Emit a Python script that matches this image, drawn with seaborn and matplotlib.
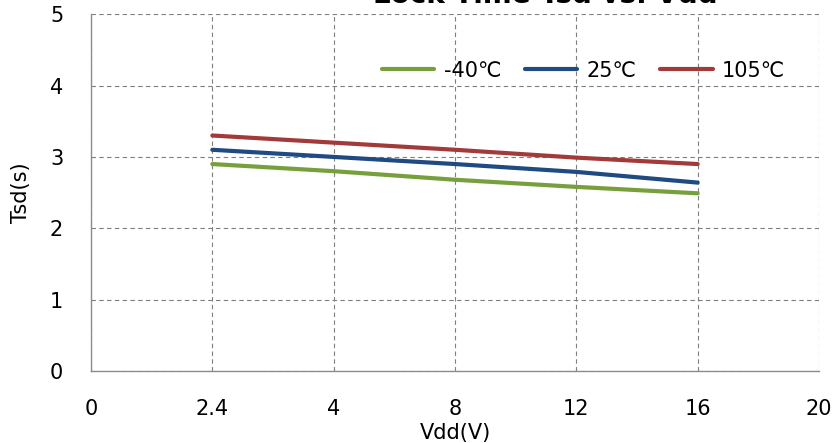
import matplotlib
matplotlib.use("Agg")
import matplotlib.pyplot as plt
import seaborn as sns
import pandas as pd

# category-style x axis, evenly spaced ticks
x_ticks = ["0", "2.4", "4", "8", "12", "16", "20"]
vdd = ["2.4", "4", "8", "12", "16"]
tsd_m40 = [2.9, 2.8, 2.68, 2.58, 2.49]
tsd_25 = [3.1, 3.0, 2.9, 2.79, 2.64]
tsd_105 = [3.3, 3.2, 3.1, 2.99, 2.9]
series = ["-40\u2103", "25\u2103", "105\u2103"]
colors = ["#77A03C", "#1F4A82", "#A33A3A"]

rows = []
for name, vals in zip(series, [tsd_m40, tsd_25, tsd_105]):
    for v, t in zip(vdd, vals):
        rows.append({"pos": x_ticks.index(v), "Tsd": t, "temp": name})
df = pd.DataFrame(rows)

sns.set_theme(style="white")
plt.rcParams["font.family"] = ["DejaVu Sans"]
plt.rcParams["text.color"] = "black"
plt.rcParams["axes.labelcolor"] = "black"
plt.rcParams["xtick.color"] = "black"
plt.rcParams["ytick.color"] = "black"

fig = plt.figure(figsize=(8.37, 4.43), dpi=100)
ax = fig.add_axes([0.1087, 0.1625, 0.8698, 0.8055])

sns.lineplot(data=df, x="pos", y="Tsd", hue="temp", hue_order=series,
             palette=colors, linewidth=3, ax=ax)

ax.set_xlim(0, len(x_ticks) - 1)
ax.set_ylim(0, 5)
ax.set_xticks(range(len(x_ticks)))
ax.set_xticklabels(x_ticks)
ax.set_yticks(range(6))
ax.tick_params(labelsize=15, length=0)
ax.tick_params(axis="x", pad=20)
ax.tick_params(axis="y", pad=20)
ax.grid(True, linestyle=(0, (4, 3)), color="#7f7f7f", linewidth=0.8)
for s in ["top", "right"]:
    ax.spines[s].set_visible(False)
for s in ["left", "bottom"]:
    ax.spines[s].set_color("#8c8c8c")
    ax.spines[s].set_linewidth(1.0)

ax.set_xlabel("Vdd(V)", fontsize=15, labelpad=3)
ax.set_ylabel("Tsd(s)", fontsize=15, labelpad=14)

ax.legend(loc="upper right", bbox_to_anchor=(0.965, 0.893), ncol=3, frameon=False,
          fontsize=15, handlelength=2.5, handletextpad=0.45, columnspacing=1.15,
          borderaxespad=0)

fig.text(0.652, 1.012, "Lock Time Tsd vs. Vdd", ha="center", va="center",
         fontsize=20, fontweight="bold")

fig.savefig("out.png", dpi=100)
